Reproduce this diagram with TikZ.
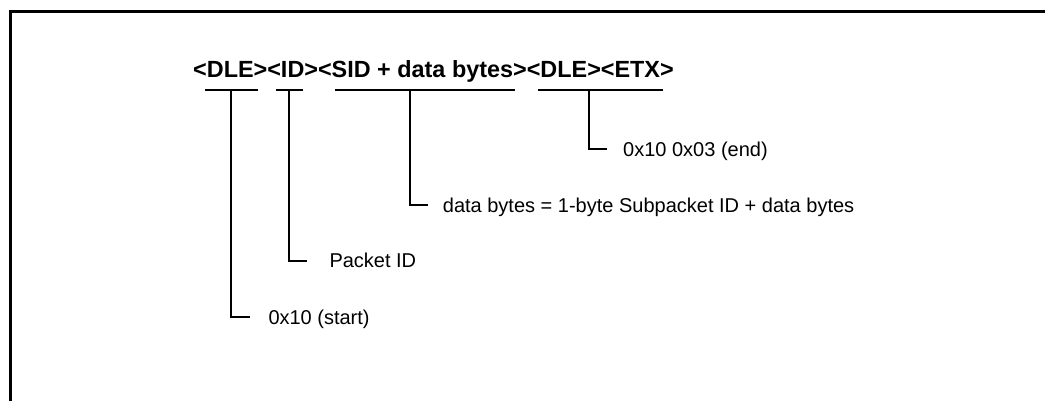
\documentclass[tikz,border=0pt]{standalone}
\usepackage{fontspec}
\setmainfont{Liberation Sans}
\begin{document}
\begin{tikzpicture}[x=1pt,y=-1pt,
  frameline/.style={line width=3pt},
  rule/.style={line width=2pt},
  lead/.style={line width=2pt},
  title/.style={inner sep=0pt,anchor=base west,font=\fontsize{23.4}{26}\selectfont\bfseries},
  note/.style={inner sep=0pt,anchor=west,text height=14.4pt,text depth=0pt,font=\fontsize{20}{24}\selectfont}]
\useasboundingbox (0,0) rectangle (1045,400);

% open frame along the top and left edges
\draw[frameline] (10.5,402) -- (10.5,11.5) -- (1047,11.5);

% packet layout
\node[title] (packet) at (193,77) {<DLE><ID><SID + data bytes><DLE><ETX>};

% field underlines and their tap points
\draw[rule] (205,89.5) -- (258,89.5);
\draw[rule] (276,89.5) -- (302.7,89.5);
\draw[rule] (335,89.5) -- (515,89.5);
\draw[rule] (538,89.5) -- (662.7,89.5);
\coordinate (tDle) at (230.7,89.5);
\coordinate (tId)  at (289.3,89.5);
\coordinate (tSid) at (410,89.5);
\coordinate (tEtx) at (589.3,89.5);

% explanations
\node[note] (nEtx)  at (623,149.3)   {0x10 0x03 (end)};
\node[note] (nSid)  at (442.7,205)   {data bytes = 1-byte Subpacket ID + data bytes};
\node[note] (nId)   at (329.3,260.7) {Packet ID};
\node[note] (nDle)  at (268.3,317.3) {0x10 (start)};

% leader ends
\coordinate (eEtx) at (606.7,149.3);
\coordinate (eSid) at (428,205);
\coordinate (eId)  at (306.7,260.7);
\coordinate (eDle) at (250,317.3);

\draw[lead] (tEtx) |- (eEtx);
\draw[lead] (tSid) |- (eSid);
\draw[lead] (tId)  |- (eId);
\draw[lead] (tDle) |- (eDle);
\end{tikzpicture}
\end{document}
